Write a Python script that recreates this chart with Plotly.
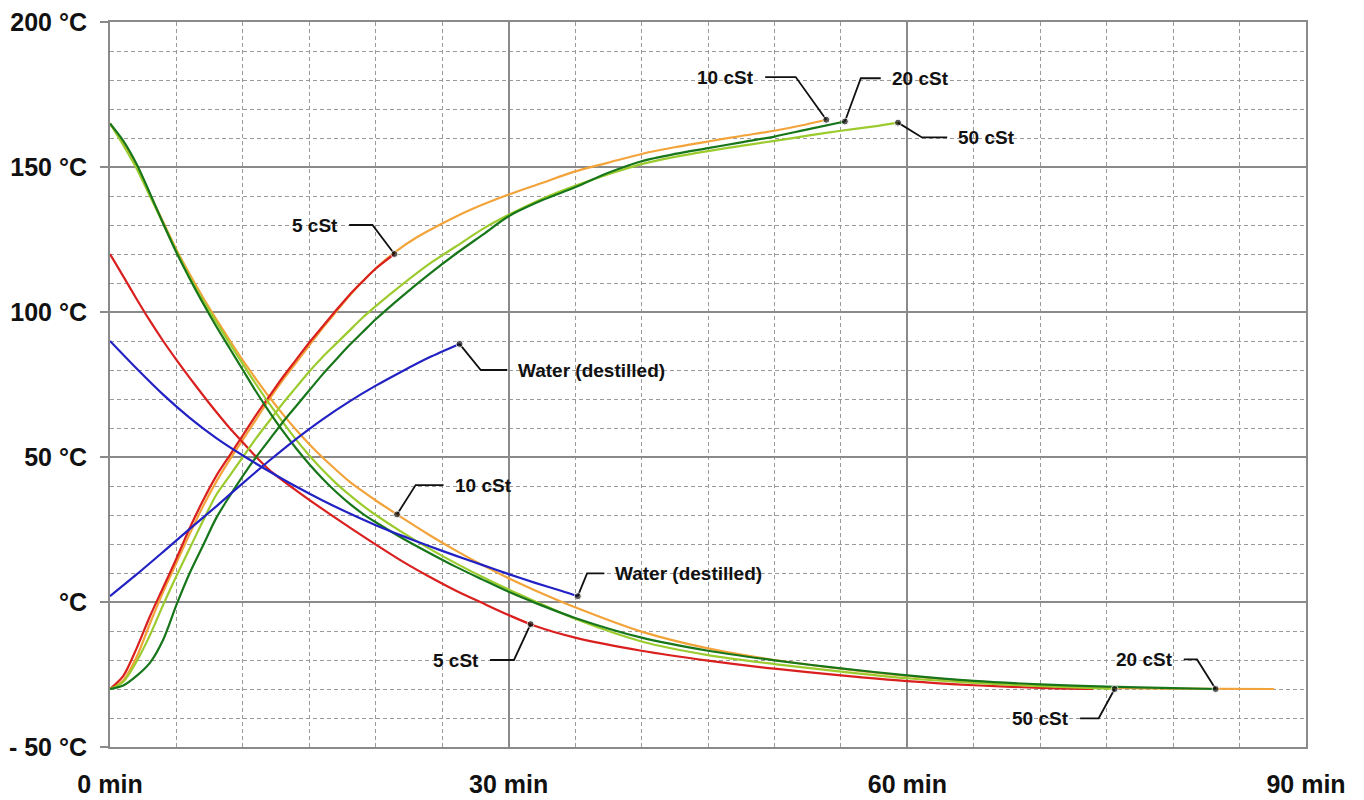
import numpy as np
import plotly.graph_objects as go

# --- heating curves (time in min, temperature in degC) ---
heat_5_t = [0, 1, 2, 3, 4, 5, 6, 7, 8, 9, 10, 11, 12, 13, 14, 15, 16, 17, 18, 19, 20, 21.4]
heat_5 = [-30, -25.5, -16, -5, 5, 15, 25.5, 35, 43.5, 50.5, 57.5, 64.5, 71, 77.5, 83.5, 89.5,
          95, 100.5, 105.8, 110.5, 115, 120]

heat_10_t = [0, 1, 2, 3, 4, 5, 6, 7, 8, 9, 10, 11, 12, 13, 14, 15, 16, 17, 18, 19, 20, 21.4,
             23, 25, 27, 30, 32.5, 35, 37.5, 40, 42.5, 45, 47.5, 50, 52, 53.9]
heat_10 = [-30, -27, -19, -7.5, 3.5, 13.5, 23.5, 33, 41.5, 49, 56, 63, 70, 76.5, 82.5, 88.5,
           94.5, 100, 105.5, 110.5, 115, 120.5, 125.5, 130.5, 135, 140.5, 144.5, 148.5, 151.5,
           154.5, 156.8, 158.8, 160.7, 162.5, 164.3, 166.3]

heat_20_t = [0, 1, 2, 3, 4, 5, 6, 7, 8, 9, 10, 11, 12, 13, 14, 15, 16, 17, 18, 19, 20, 22,
             24, 26, 28, 30, 32.5, 35, 37.5, 40, 42.5, 45, 47.5, 50, 52.5, 55.3]
heat_20 = [-30, -28.8, -25.5, -21, -13, -1, 10, 19.5, 29, 36.5, 43.5, 50, 56, 62, 67.5, 73,
           78.5, 83.5, 88.5, 93, 97.5, 105.5, 113, 120, 126.5, 133, 138.5, 143, 148, 152,
           154.5, 156.5, 158.5, 160.5, 163, 165.7]

heat_50_t = [0, 1, 2, 3, 4, 5, 6, 7, 8, 9, 10, 11, 12, 13, 14, 15, 16, 17, 18, 19, 20, 22,
             24, 26, 28, 30, 32.5, 35, 37.5, 40, 42.5, 45, 47.5, 50, 52.5, 55, 57.5, 59.3]
heat_50 = [-30, -27.5, -20.5, -11.5, -1, 9, 18.5, 28, 37, 43.5, 50, 56.5, 62.5, 68.5, 74, 79.5,
           84.5, 89, 93.5, 98, 102, 109.5, 116.5, 122.5, 128.5, 133.5, 139, 143.5, 147.5, 151,
           153.5, 155.5, 157.3, 159, 160.8, 162.5, 164, 165.3]

heat_w_t = [0, 2, 4, 6, 8, 10, 12, 14, 16, 18, 20, 22, 24, 26.3]
heat_w = [2, 9.5, 17.3, 25.2, 33, 41, 48.8, 56.2, 63, 69.1, 74.6, 79.6, 84.3, 89]

# --- cooling curves ---
cool_5_t = [0, 1, 2, 3, 4, 5, 6, 7, 8, 9, 10, 11, 12, 14, 16, 18, 20, 22, 24, 26, 28, 30, 32,
            35, 40, 45, 50, 55, 60, 65, 70, 74]
cool_5 = [120, 112.3, 104.5, 97, 90, 83.5, 77.3, 71.3, 65.5, 60, 55, 50, 45.5, 38.5, 32, 25.8,
          19.8, 14, 8.8, 4, -0.3, -4.5, -8.3, -12.3, -16.8, -20.2, -23, -25.3, -27.3, -28.7,
          -29.6, -30]

cool_10_t = [0, 1, 2, 3, 4, 5, 6, 7, 8, 9, 10, 11, 12, 13, 14, 15, 16, 17, 18, 19, 20, 22, 24,
             26, 28, 30, 32, 35, 40, 45, 50, 55, 60, 65, 70, 75, 80, 87.6]
cool_10 = [165, 158, 150, 140.5, 131, 121.5, 113, 105, 97.5, 90.3, 83.3, 76.8, 70.6, 64.8, 59.4,
           54.4, 49.8, 45.6, 41.6, 38.2, 35, 29, 23.2, 17.8, 12.8, 8.2, 4, -1.8, -10.2, -16,
           -20, -23, -25.5, -27.4, -28.7, -29.5, -29.9, -30]

cool_20_t = [0, 1, 2, 3, 4, 5, 6, 7, 8, 9, 10, 11, 12, 13, 14, 15, 16, 17, 18, 19, 20, 22, 24,
             26, 28, 30, 32, 35, 40, 45, 50, 55, 60, 65, 70, 75, 80, 83.2]
cool_20 = [165, 159, 151, 141, 130.5, 120.5, 111.5, 103, 95, 87.5, 80, 72.5, 65.5, 59, 53,
           47.5, 42.5, 38, 34, 30.5, 27.5, 22, 17, 12.2, 7.8, 3.5, -0.3, -5.5, -12.3, -16.8,
           -20.1, -22.9, -25.3, -27.2, -28.4, -29.2, -29.7, -30]

cool_50_t = [0, 1, 2, 3, 4, 5, 6, 7, 8, 9, 10, 11, 12, 13, 14, 15, 16, 17, 18, 19, 20, 22, 24,
             26, 28, 30, 32, 35, 40, 45, 50, 55, 60, 65, 70, 75.6]
cool_50 = [165, 157.5, 149.5, 140, 130.5, 121, 112, 104, 96.5, 89.2, 82, 75, 68.3, 62, 56,
           50.5, 45.5, 41, 37, 33.3, 30, 24, 18.5, 13.4, 8.7, 4.3, 0.2, -5.8, -13.6, -18.3,
           -21.4, -24, -26.3, -27.9, -29, -30]

cool_w_t = [0, 2, 4, 6, 8, 10, 12, 14, 16, 18, 20, 22, 24, 26, 28, 30, 32, 34, 35.2]
cool_w = [90, 80.5, 71.5, 63.5, 56.5, 50.5, 45, 39.8, 35, 30.6, 26.5, 22.8, 19.3, 16, 12.8, 9.6,
          6.6, 3.8, 2]

x_ticks = [0, 30, 60, 90]
x_tick_text = ['0 min', '30 min', '60 min', '90 min']
y_ticks = [-50, 0, 50, 100, 150, 200]
y_tick_text = ['- 50 °C', '°C', '50 °C', '100 °C', '150 °C', '200 °C']

RED = '#DA1F1F'
ORANGE = '#F2A33A'
DARK_GREEN = '#17761A'
LIGHT_GREEN = '#9CCB2E'
BLUE = '#2222C4'

curves = {
    'heat_5': (heat_5_t, heat_5, RED),
    'heat_10': (heat_10_t, heat_10, ORANGE),
    'heat_20': (heat_20_t, heat_20, DARK_GREEN),
    'heat_50': (heat_50_t, heat_50, LIGHT_GREEN),
    'heat_w': (heat_w_t, heat_w, BLUE),
    'cool_5': (cool_5_t, cool_5, RED),
    'cool_10': (cool_10_t, cool_10, ORANGE),
    'cool_20': (cool_20_t, cool_20, DARK_GREEN),
    'cool_50': (cool_50_t, cool_50, LIGHT_GREEN),
    'cool_w': (cool_w_t, cool_w, BLUE),
}
draw_order = ['heat_10', 'cool_10', 'heat_5', 'cool_5', 'heat_50', 'cool_50',
              'heat_20', 'cool_20', 'heat_w', 'cool_w']

# label, curve, time of the dot, leader corner (t, T), leader end t, text side
labels = [
    ('5 cSt', 'heat_5', 21.4, (19.75, 130), 18.0, 'right'),
    ('10 cSt', 'heat_10', 53.9, (51.6, 181), 49.3, 'right'),
    ('20 cSt', 'heat_20', 55.3, (56.5, 180.6), 58.0, 'left'),
    ('50 cSt', 'heat_50', 59.3, (61.1, 160.2), 63.0, 'left'),
    ('Water (destilled)', 'heat_w', 26.3, (27.9, 80), 29.9, 'left'),
    ('10 cSt', 'cool_10', 21.6, (23.0, 40.3), 25.1, 'left'),
    ('Water (destilled)', 'cool_w', 35.2, (35.9, 9.9), 37.2, 'left'),
    ('5 cSt', 'cool_5', 31.65, (30.4, -20), 28.6, 'right'),
    ('20 cSt', 'cool_20', 83.2, (81.8, -19.8), 80.8, 'right'),
    ('50 cSt', 'cool_50', 75.6, (74.4, -40.1), 73.0, 'right'),
]

FONT = 'Liberation Sans, Arial, sans-serif'

fig = go.Figure()

for key in draw_order:
    t, temp, colour = curves[key]
    fig.add_trace(go.Scatter(x=t, y=temp, mode='lines',
                             line=dict(color=colour, width=2.2, shape='spline', smoothing=0.8),
                             hoverinfo='skip', showlegend=False))

# leader lines with a dot on the curve, and the label text
for text, key, t_dot, corner, t_end, side in labels:
    t, temp, _ = curves[key]
    y_dot = float(np.interp(t_dot, t, temp))
    fig.add_trace(go.Scatter(x=[t_dot, corner[0], t_end], y=[y_dot, corner[1], corner[1]],
                             mode='lines+markers',
                             line=dict(color='#111111', width=1.8),
                             marker=dict(color='#111111', size=[7, 0, 0]),
                             hoverinfo='skip', showlegend=False))
    fig.add_annotation(x=t_end, y=corner[1], text=text, showarrow=False,
                       xanchor='left' if side == 'left' else 'right',
                       xshift=9 if side == 'left' else -9,
                       font=dict(family=FONT, size=19, color='#111111', weight='bold'))

# the page body adds an 8px margin, so the figure is a bit smaller than the window
fig.update_layout(
    width=1356, height=792,
    margin=dict(l=102, r=58, t=14, b=53),
    paper_bgcolor='white', plot_bgcolor='white',
    font=dict(family=FONT, color='#111111'),
)

fig.update_xaxes(
    range=[0, 90], tickvals=x_ticks, ticktext=x_tick_text, automargin=False,
    ticklabeloverflow='allow',
    showgrid=True, gridcolor='#8a8a8a', gridwidth=2,
    minor=dict(dtick=5, tick0=0, showgrid=True, gridcolor='#9a9a9a', gridwidth=1,
               griddash='4px,3px'),
    showline=True, linecolor='#8a8a8a', linewidth=2, mirror=True,
    zeroline=False, ticks='', ticklabelstandoff=14,
    tickfont=dict(family=FONT, size=25, color='#111111', weight='bold'),
)
fig.update_yaxes(
    range=[-50, 200], tickvals=y_ticks, ticktext=y_tick_text, automargin=False,
    ticklabeloverflow='allow',
    showgrid=True, gridcolor='#8a8a8a', gridwidth=2,
    minor=dict(dtick=10, tick0=0, showgrid=True, gridcolor='#9a9a9a', gridwidth=1,
               griddash='4px,3px'),
    showline=True, linecolor='#8a8a8a', linewidth=2, mirror=True,
    zeroline=False, ticks='outside', ticklen=8, tickcolor='#8a8a8a', tickwidth=2,
    ticklabelstandoff=8,
    tickfont=dict(family=FONT, size=25, color='#111111', weight='bold'),
)

fig.write_html("out.html")
